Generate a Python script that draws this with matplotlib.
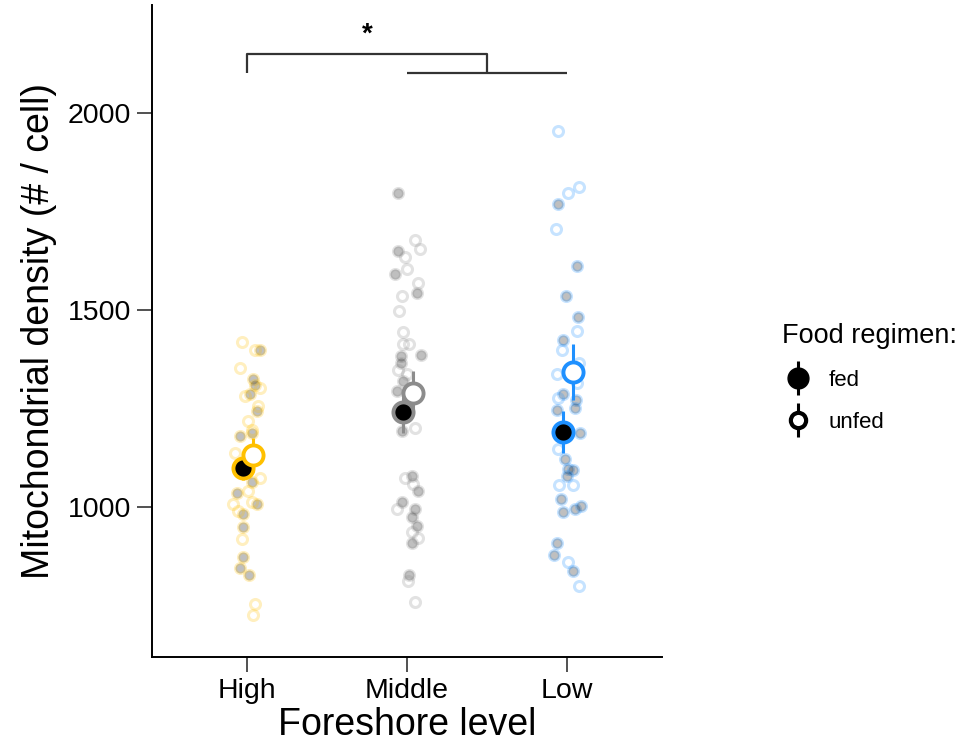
import matplotlib

matplotlib.use("Agg")
import matplotlib.pyplot as plt
import numpy as np
from matplotlib.legend_handler import HandlerTuple
from matplotlib.lines import Line2D

plt.rcParams["font.family"] = ["Liberation Sans", "DejaVu Sans"]

levels = ["High", "Middle", "Low"]
level_colors = ["#FFC000", "#8C8C8C", "#1E90FF"]

fed_high = [1400, 1324, 1311, 1286, 1244, 1181, 1189, 1064, 1037, 1008, 982, 949, 874, 847, 828]
unfed_high = [1418, 1400, 1354, 1303, 1282, 1258, 1218, 1197, 1138, 1075, 1041, 1008, 991, 1012, 919, 754, 727]
fed_mid = [1798, 1651, 1592, 1544, 1385, 1383, 1365, 1320, 1294, 1193, 1078, 1041, 1012, 995, 976, 953, 909, 828]
unfed_mid = [1679, 1655, 1635, 1604, 1569, 1537, 1497, 1445, 1413, 1413, 1349, 1339, 1202, 1075, 1058, 995, 937,
             921, 813, 760]
fed_low = [1769, 1613, 1537, 1482, 1425, 1286, 1273, 1252, 1246, 1189, 1122, 1096, 1094, 1079, 1020, 988, 995,
           1002, 908, 879, 839]
unfed_low = [1955, 1798, 1812, 1706, 1448, 1398, 1366, 1339, 1278, 1316, 1147, 1056, 1056, 860, 799]

# horizontal jitter of each raw point (pixels in the original, 160 px per category)
jit_fed_high = [13, 6, 8, 3, 10, -7, 5, 5, -10, 10, -4, -4, -4, -7, 2]
jit_unfed_high = [-5, 8, -7, 13, -2, 11, 1, 5, -12, 13, 1, -14, -9, 5, -5, 8, 6]
jit_fed_mid = [-9, -9, -12, 10, 14, -6, -6, -4, -10, -5, 5, 11, -5, 8, 5, 10, 5, 2]
jit_unfed_mid = [8, 13, -2, 0, 11, -5, -8, -4, -4, 2, -9, 0, 8, -2, 6, -10, 5, 11, 1, 8]
jit_fed_low = [-9, 10, -1, 11, -4, -4, 9, 8, -10, 13, -2, 1, 6, 0, -6, -4, 8, 14, -10, -13, 6]
jit_unfed_low = [-9, 1, 12, -11, 10, -5, 12, -10, -9, 10, -9, -8, 6, 1, 12]

# group means and standard errors
mean_fed = [1100, 1241, 1191]
se_fed = [30, 52, 53]
mean_unfed = [1132, 1290, 1343]
se_unfed = [43, 55, 70]

raw_fed = [fed_high, fed_mid, fed_low]
raw_unfed = [unfed_high, unfed_mid, unfed_low]
jit_fed = [jit_fed_high, jit_fed_mid, jit_fed_low]
jit_unfed = [jit_unfed_high, jit_unfed_mid, jit_unfed_low]

fig = plt.figure(figsize=(9.71, 7.53), dpi=100)
ax = fig.add_axes([152 / 971, 96 / 753, 510 / 971, 652 / 753])

x = np.arange(1, len(levels) + 1)
PX = 1 / 160

for i, col in enumerate(level_colors):
    xf = x[i] + np.array(jit_fed[i]) * PX
    ax.plot(xf, raw_fed[i], "o", ms=7.2, mfc="black", mec=col, mew=2.2, alpha=0.25, zorder=2)
    xu = x[i] + np.array(jit_unfed[i]) * PX
    ax.plot(xu, raw_unfed[i], "o", ms=7.2, mfc="none", mec=col, mew=2.2, alpha=0.25, zorder=2)

d_fed, d_unfed = -0.025, 0.035
for i, col in enumerate(level_colors):
    ax.errorbar(x[i] + d_fed, mean_fed[i], yerr=se_fed[i], fmt="o", ms=14.5, mfc="black", mec=col, mew=2.8,
                ecolor=col, elinewidth=2.2, capsize=0, zorder=4)
    ax.errorbar(x[i] + d_unfed, mean_unfed[i], yerr=se_unfed[i], fmt="o", ms=14.5, mfc="white", mec=col,
                mew=2.8, ecolor=col, elinewidth=2.2, capsize=0, zorder=5)

# significance bracket
bk = "#333333"
ax.plot([1, 1, 2.5, 2.5], [2101, 2150, 2150, 2101], color=bk, lw=1.6, solid_capstyle="butt")
ax.plot([2, 3], [2101, 2101], color=bk, lw=1.6, solid_capstyle="butt")
ax.text(1.75, 2200, "*", ha="center", va="center", fontsize=20, fontweight="bold")

ax.set_xlim(0.406, 3.594)
ax.set_ylim(620, 2274)
ax.set_xticks(x)
ax.set_xticklabels(levels)
ax.set_yticks([1000, 1500, 2000])
ax.tick_params(axis="both", length=11, width=1.2, color="#333333", labelsize=20.5, pad=4)
for s in ["top", "right"]:
    ax.spines[s].set_visible(False)
for s in ["left", "bottom"]:
    ax.spines[s].set_linewidth(1.4)
ax.set_xlabel("Foreshore level", fontsize=27, labelpad=2)
ax.set_ylabel("Mitochondrial density (# / cell)", fontsize=27, labelpad=8)

bar = Line2D([], [], marker="|", ms=24, mew=2.2, color="black", ls="none")
h_fed = (bar, Line2D([], [], marker="o", ms=15, mfc="black", mec="black", ls="none"))
h_unfed = (bar, Line2D([], [], marker="o", ms=11, mfc="white", mec="black", mew=3, ls="none"))
leg = fig.legend([h_fed, h_unfed], ["fed", "unfed"], handler_map={tuple: HandlerTuple(ndivide=1)},
                 loc="upper left", bbox_to_anchor=(762 / 971, 1 - 303 / 753), frameon=False,
                 title="Food regimen:", title_fontsize=19.5, fontsize=16, handlelength=1.4,
                 labelspacing=0.95, handletextpad=0.7, alignment="left")

fig.savefig("out.png", dpi=100)
